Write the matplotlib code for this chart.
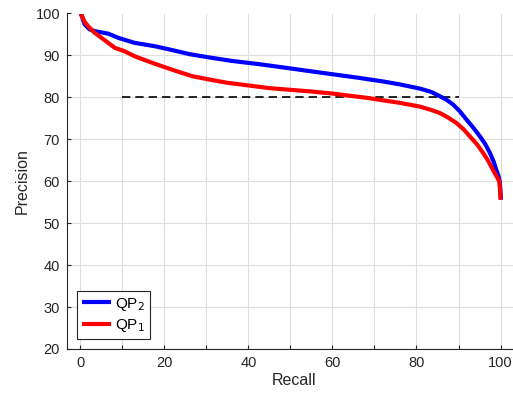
import matplotlib
matplotlib.use("Agg")
import matplotlib.pyplot as plt
from matplotlib.ticker import FixedLocator

plt.rcParams['font.family'] = ['Liberation Sans', 'DejaVu Sans']

# QP2 (blue) precision-recall curve
qp2_recall = [0, 0.2, 1, 2.2, 3.4, 5, 6.6, 9, 12.9, 17.7, 21.3, 26, 30.8, 36, 42.7, 50,
              55, 60.1, 66, 72, 76, 80.8, 83.5, 85.5, 87.2, 88.7, 90.3, 91.9, 93.5, 95.1,
              96.4, 97.5, 98.4, 99, 99.5, 99.8, 100, 100.1]
qp2_precision = [100, 99.8, 97.4, 96.2, 95.8, 95.5, 95.2, 94.2, 93.0, 92.2, 91.4, 90.3, 89.5,
                 88.7, 87.9, 86.9, 86.2, 85.5, 84.7, 83.8, 83.1, 82.1, 81.3, 80.3, 79.4,
                 78.3, 76.7, 74.7, 72.8, 70.7, 68.8, 66.7, 64.6, 62.7, 61.3, 60.0, 57.5, 55.6]

# QP1 (red) precision-recall curve
qp1_recall = [0, 0.2, 1, 1.8, 3.4, 5, 6.6, 8.2, 10.5, 12.9, 16.1, 18.9, 23, 26.8, 31, 34.8,
              40.3, 45, 50, 55, 60.1, 64, 68.1, 72, 76, 80.8, 83.5, 85.5, 87.5, 89.5, 91.2,
              92.7, 94.4, 95.9, 97.1, 98.2, 99, 99.7, 99.9, 100]
qp1_precision = [100, 99.7, 98.0, 97.0, 95.4, 94.2, 93.0, 91.8, 91.0, 89.8, 88.6, 87.6, 86.2,
                 85.0, 84.2, 83.5, 82.8, 82.2, 81.8, 81.4, 80.9, 80.4, 79.9, 79.3, 78.7,
                 77.8, 77.0, 76.3, 75.2, 73.9, 72.4, 70.7, 68.8, 66.7, 64.8, 62.7, 61.3,
                 60.0, 58.0, 55.6]

threshold_x = [10, 90]
threshold_y = [80, 80]

x_ticks = list(range(0, 101, 10))
x_labels = [str(v) if v % 20 == 0 else '' for v in x_ticks]
y_ticks = list(range(20, 101, 10))

fig = plt.figure(figsize=(5.13, 3.96), dpi=100)
ax = fig.add_axes([67/513, 47/396, 0.886, 335.5/396])

ax.plot(qp2_recall, qp2_precision, color='#0000ff', lw=3, label='QP$_2$',
        solid_joinstyle='round', solid_capstyle='butt', zorder=3)
ax.plot(qp1_recall, qp1_precision, color='#ff0000', lw=3, label='QP$_1$',
        solid_joinstyle='round', solid_capstyle='butt', zorder=3)
ax.plot(threshold_x, threshold_y, color='black', lw=1.2, ls=(0, (5, 3)), zorder=2)

ax.set_xlim(-3.2, 105)
ax.set_ylim(20, 100)
ax.xaxis.set_major_locator(FixedLocator(x_ticks))
ax.set_xticklabels(x_labels)
ax.yaxis.set_major_locator(FixedLocator(y_ticks))

ax.grid(True, color='#dedede', lw=0.8)
ax.set_axisbelow(True)
for s in ['top', 'right']:
    ax.spines[s].set_visible(False)
for s in ['left', 'bottom']:
    ax.spines[s].set_color('#262626')
    ax.spines[s].set_linewidth(0.8)
ax.tick_params(direction='in', length=3, width=0.8, color='#262626', labelcolor='#262626',
               labelsize=10.5, pad=5)

ax.set_xlabel('Recall', fontsize=11.5, color='#262626', labelpad=2)
ax.set_ylabel('Precision', fontsize=11.5, color='#262626', labelpad=4)

leg = ax.legend(loc='lower left', bbox_to_anchor=(0.022, 0.03), borderaxespad=0,
                fancybox=False, edgecolor='#262626', framealpha=1, fontsize=11,
                handlelength=1.9, handletextpad=0.3, borderpad=0.3, labelspacing=0.3)
leg.get_frame().set_linewidth(0.8)

fig.savefig('out.png', dpi=100)
